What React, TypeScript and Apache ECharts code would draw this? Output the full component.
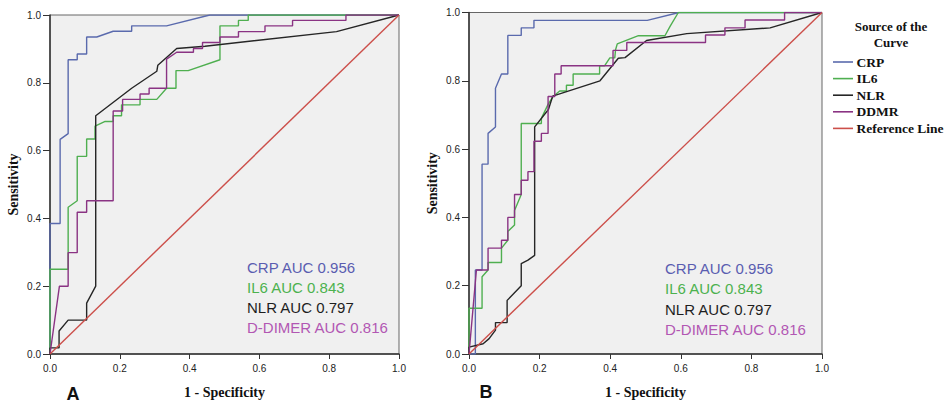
import React, { useEffect, useRef } from "react";
import * as echarts from "echarts";

// ---------- data ----------
// Panel A curves: [1 - specificity, sensitivity]
const crpA = [[0,0],[0,0.385],[0.029,0.385],[0.029,0.633],[0.052,0.65],[0.052,0.868],[0.078,0.868],[0.078,0.885],[0.105,0.885],[0.105,0.935],[0.134,0.935],[0.181,0.952],[0.234,0.952],[0.234,0.968],[0.334,0.968],[0.458,1],[1,1]];
const il6A = [[0,0],[0,0.25],[0.052,0.25],[0.052,0.433],[0.078,0.452],[0.078,0.583],[0.105,0.583],[0.105,0.634],[0.129,0.634],[0.129,0.672],[0.158,0.686],[0.181,0.686],[0.181,0.703],[0.205,0.703],[0.205,0.735],[0.258,0.735],[0.258,0.751],[0.306,0.751],[0.334,0.784],[0.361,0.784],[0.361,0.836],[0.396,0.836],[0.487,0.868],[0.487,0.968],[0.54,0.968],[0.54,0.984],[0.568,0.984],[0.568,1],[1,1]];
const nlrA = [[0,0],[0,0.018],[0.026,0.018],[0.026,0.068],[0.052,0.1],[0.105,0.1],[0.105,0.15],[0.131,0.2],[0.131,0.703],[0.234,0.784],[0.306,0.834],[0.309,0.852],[0.363,0.901],[0.444,0.908],[0.821,0.951],[1,1]];
const ddmrA = [[0,0],[0.027,0.2],[0.052,0.2],[0.052,0.299],[0.078,0.299],[0.078,0.418],[0.105,0.418],[0.105,0.452],[0.181,0.452],[0.181,0.717],[0.208,0.717],[0.208,0.751],[0.258,0.751],[0.258,0.767],[0.284,0.767],[0.284,0.784],[0.334,0.784],[0.334,0.87],[0.363,0.89],[0.411,0.89],[0.411,0.901],[0.437,0.901],[0.437,0.919],[0.487,0.919],[0.487,0.935],[0.54,0.935],[0.54,0.951],[0.616,0.951],[0.616,0.968],[0.695,0.968],[0.695,0.984],[0.848,0.984],[0.848,1],[1,1]];

// Panel B curves
const crpB = [[0,0],[0.018,0],[0.018,0.246],[0.037,0.246],[0.037,0.556],[0.054,0.556],[0.054,0.646],[0.075,0.665],[0.075,0.778],[0.092,0.82],[0.11,0.82],[0.11,0.933],[0.148,0.933],[0.148,0.955],[0.184,0.955],[0.184,0.977],[0.505,0.977],[0.595,1],[1,1]];
const il6B = [[0,0],[0,0.134],[0.037,0.134],[0.037,0.226],[0.054,0.246],[0.054,0.268],[0.092,0.268],[0.092,0.31],[0.11,0.333],[0.11,0.359],[0.129,0.378],[0.129,0.42],[0.148,0.467],[0.148,0.675],[0.205,0.675],[0.205,0.69],[0.224,0.731],[0.238,0.754],[0.257,0.77],[0.276,0.77],[0.276,0.787],[0.295,0.787],[0.295,0.82],[0.37,0.82],[0.37,0.844],[0.384,0.844],[0.399,0.867],[0.413,0.867],[0.415,0.89],[0.42,0.908],[0.48,0.932],[0.555,0.932],[0.57,0.96],[0.593,1],[1,1]];
const nlrB = [[0,0],[0,0.02],[0.04,0.03],[0.057,0.045],[0.075,0.07],[0.075,0.092],[0.108,0.092],[0.108,0.157],[0.148,0.2],[0.148,0.265],[0.167,0.275],[0.186,0.289],[0.186,0.665],[0.225,0.716],[0.237,0.755],[0.371,0.8],[0.423,0.866],[0.442,0.868],[0.503,0.918],[0.617,0.938],[0.853,0.955],[1,1]];
const ddmrB = [[0,0],[0.021,0.246],[0.054,0.246],[0.054,0.31],[0.092,0.31],[0.092,0.333],[0.11,0.333],[0.11,0.4],[0.129,0.4],[0.129,0.467],[0.148,0.467],[0.148,0.509],[0.167,0.509],[0.167,0.534],[0.184,0.534],[0.184,0.623],[0.205,0.623],[0.205,0.646],[0.224,0.646],[0.224,0.754],[0.243,0.754],[0.243,0.82],[0.261,0.82],[0.261,0.844],[0.408,0.844],[0.408,0.889],[0.447,0.889],[0.447,0.912],[0.67,0.912],[0.67,0.934],[0.725,0.934],[0.725,0.955],[0.782,0.955],[0.782,0.978],[0.894,0.978],[0.894,1],[1,1]];

const referenceLine = [[0,0],[1,1]];

const curveNames = ["CRP", "IL6", "NLR", "DDMR", "Reference Line"];
const aucLabels = ["CRP AUC 0.956", "IL6 AUC 0.843", "NLR AUC 0.797", "D-DIMER AUC 0.816"];
const panelLabels = ["A", "B"];
const legendTitle = ["Source of the", "Curve"];

// ---------- styling ----------
const lineColors = ["#5a6aad", "#4faf50", "#262626", "#8a3383", "#cc4f4a"];
const textColors = ["#5a5db0", "#4cb24e", "#1e1e1e", "#b257b3"];
const serif = '"Liberation Serif", "Times New Roman", serif';
const sans = '"Liberation Sans", Arial, sans-serif';

export default function App() {
  const ref = useRef<HTMLDivElement>(null);

  useEffect(() => {
    if (!ref.current) return;
    const chart = echarts.init(ref.current, null, { renderer: "svg" });

    const grids = [
      { left: 50, top: 15, width: 349, height: 348 },
      { left: 469, top: 12.5, width: 353, height: 355 },
    ];

    const mkX = (i: number) => ({
      type: "value",
      gridIndex: i,
      min: 0,
      max: 1,
      interval: 0.2,
      name: "1 - Specificity",
      nameLocation: "middle",
      nameGap: 31,
      nameTextStyle: { fontFamily: serif, fontWeight: "bold", fontSize: 14, color: "#111" },
      axisLine: { show: true, onZero: false, lineStyle: { color: "#333", width: 1.5 } },
      axisTick: { show: true, length: 5, lineStyle: { color: "#333" } },
      axisLabel: {
        color: "#222",
        fontFamily: sans,
        fontSize: 10,
        margin: 9,
        formatter: (v: number) => v.toFixed(1),
      },
      splitLine: { show: false },
    });
    const mkY = (i: number) => ({
      type: "value",
      gridIndex: i,
      min: 0,
      max: 1,
      interval: 0.2,
      name: "Sensitivity",
      nameLocation: "middle",
      nameGap: 30,
      nameRotate: 90,
      nameTextStyle: { fontFamily: serif, fontWeight: "bold", fontSize: 14, color: "#111" },
      axisLine: { show: true, onZero: false, lineStyle: { color: "#333", width: 1.5 } },
      axisTick: { show: true, length: 7, lineStyle: { color: "#333" } },
      axisLabel: {
        color: "#222",
        fontFamily: sans,
        fontSize: 10,
        margin: 9,
        formatter: (v: number) => v.toFixed(1),
      },
      splitLine: { show: false },
    });

    const panels = [
      [crpA, il6A, nlrA, ddmrA, referenceLine],
      [crpB, il6B, nlrB, ddmrB, referenceLine],
    ];
    const drawOrder = [4, 3, 1, 2, 0];
    const series: any[] = [];
    panels.forEach((curves, p) => {
      drawOrder.forEach((k) => {
        series.push({
          name: curveNames[k],
          type: "line",
          xAxisIndex: p,
          yAxisIndex: p,
          data: curves[k],
          symbol: "none",
          showSymbol: false,
          silent: true,
          lineStyle: { color: lineColors[k], width: 1.4 },
          z: 2 + k,
        });
      });
    });

    const graphics: any[] = [];
    // AUC labels inside each panel
    const aucPos = [
      { x: 247, y: 267 },
      { x: 665, y: 268.5 },
    ];
    aucPos.forEach((pos) => {
      aucLabels.forEach((t, i) => {
        graphics.push({
          type: "text",
          x: pos.x,
          y: pos.y + i * 20.3,
          style: {
            text: t,
            fill: textColors[i],
            font: `15px ${sans}`,
            textAlign: "left",
            textVerticalAlign: "middle",
            align: "left",
            verticalAlign: "middle",
          },
          z: 100,
        });
      });
    });
    // Panel letters
    const letterPos = [
      { x: 73, y: 394 },
      { x: 486, y: 392 },
    ];
    letterPos.forEach((pos, i) => {
      graphics.push({
        type: "text",
        x: pos.x,
        y: pos.y,
        style: {
          text: panelLabels[i],
          fill: "#111",
          font: `bold 18px ${sans}`,
          textAlign: "center",
          textVerticalAlign: "middle",
          align: "center",
          verticalAlign: "middle",
        },
      });
    });
    // Legend
    legendTitle.forEach((t, i) => {
      graphics.push({
        type: "text",
        x: 891,
        y: 26 + i * 16,
        style: {
          text: t,
          fill: "#111",
          font: `bold 13px ${serif}`,
          textAlign: "center",
          textVerticalAlign: "middle",
          align: "center",
          verticalAlign: "middle",
        },
      });
    });
    curveNames.forEach((n, i) => {
      const y = 62 + i * 16.6;
      graphics.push({
        type: "line",
        shape: { x1: 833, y1: y, x2: 853, y2: y },
        style: { stroke: lineColors[i], lineWidth: 1.6 },
      });
      graphics.push({
        type: "text",
        x: 856.5,
        y,
        style: {
          text: n,
          fill: "#111",
          font: `bold 13.5px ${serif}`,
          textAlign: "left",
          textVerticalAlign: "middle",
          align: "left",
          verticalAlign: "middle",
        },
      });
    });

    chart.setOption({
      animation: false,
      backgroundColor: "#ffffff",
      grid: grids.map((g) => ({
        ...g,
        show: true,
        backgroundColor: "#f0f0f0",
        borderColor: "#666",
        borderWidth: 1,
        containLabel: false,
      })),
      xAxis: [mkX(0), mkX(1)],
      yAxis: [mkY(0), mkY(1)],
      series,
      graphic: graphics,
    });

    return () => chart.dispose();
  }, []);

  return (
    <div
      ref={ref}
      style={{ position: "fixed", left: 0, top: 0, width: 952, height: 404, overflow: "hidden" }}
    />
  );
}
